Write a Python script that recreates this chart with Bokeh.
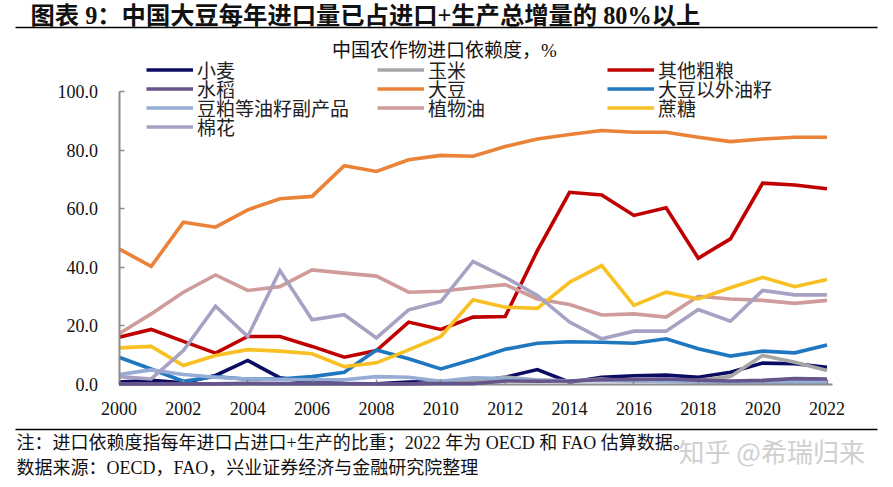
from bokeh.plotting import figure
from bokeh.models import (Range1d, FixedTicker, Label, Legend, LegendItem,
                          ColumnDataSource, LinearAxis)
from bokeh.embed import file_html
from bokeh.resources import INLINE

# ---------------- data ----------------
years = list(range(2000, 2023))
wheat   = [0.8, 1.4, 0.6, 3.1, 8.2, 2.3, 0.8, 0.3, 0.2, 0.8, 1.0, 1.0, 2.5, 5.1, 0.8, 2.5, 3.0, 3.2, 2.5, 4.2, 7.3, 7.1, 5.9]
corn    = [0.1, 0.1, 0.1, 0.1, 0.1, 0.1, 0.1, 0.1, 0.1, 0.1, 0.8, 1.0, 2.5, 1.5, 1.2, 1.9, 1.1, 1.2, 1.4, 2.7, 9.9, 7.6, 4.8]
coarse  = [16.1, 18.8, 14.7, 10.7, 16.4, 16.4, 13.0, 9.3, 11.6, 21.3, 18.8, 23.0, 23.2, 45.7, 65.6, 64.7, 57.7, 60.3, 43.1, 49.7, 68.7, 68.1, 66.8]
rice    = [0.2, 0.2, 0.2, 0.2, 0.4, 0.3, 0.3, 0.3, 0.2, 0.2, 0.3, 0.3, 1.2, 1.1, 1.2, 1.6, 1.7, 1.9, 1.5, 1.2, 1.4, 2.0, 1.9]
soy     = [46.3, 40.3, 55.4, 53.7, 59.6, 63.4, 64.2, 74.7, 72.7, 76.7, 78.2, 77.9, 81.2, 83.8, 85.3, 86.7, 86.1, 86.1, 84.4, 82.9, 83.8, 84.4, 84.4]
oilseed = [9.3, 5.3, 1.1, 2.7, 1.8, 1.9, 2.7, 4.2, 11.8, 8.8, 5.3, 8.5, 12.0, 14.1, 14.6, 14.4, 14.1, 15.6, 12.2, 9.7, 11.4, 10.8, 13.5]
meal    = [3.4, 5.0, 3.4, 2.5, 1.9, 1.7, 1.6, 1.6, 2.7, 2.5, 1.1, 2.3, 2.0, 1.5, 1.3, 1.3, 1.2, 1.0, 0.9, 0.8, 0.8, 0.8, 0.8]
vegoil  = [17.3, 24.1, 31.5, 37.4, 32.1, 33.4, 39.1, 38.0, 37.0, 31.5, 31.8, 33.0, 34.1, 29.2, 27.3, 23.7, 24.1, 23.0, 30.1, 29.2, 28.7, 27.7, 28.7]
sugar   = [12.5, 13.0, 6.5, 9.9, 11.9, 11.4, 10.5, 6.1, 7.4, 11.8, 16.4, 28.9, 26.4, 26.0, 34.9, 40.6, 27.0, 31.5, 29.2, 33.0, 36.6, 33.4, 35.8]
cotton  = [2.7, 1.9, 11.6, 26.7, 16.4, 38.9, 22.1, 23.8, 15.9, 25.5, 28.3, 42.0, 36.6, 30.4, 21.3, 15.6, 18.2, 18.2, 25.6, 21.6, 32.1, 30.6, 30.6]

series_names = ["小麦", "玉米", "其他粗粮", "水稻", "大豆", "大豆以外油籽",
                "豆粕等油籽副产品", "植物油", "蔗糖", "棉花"]
series_values = [wheat, corn, coarse, rice, soy, oilseed, meal, vegoil, sugar, cotton]
series_colors = ["#0c0c62", "#a6a6a6", "#c00000", "#66558a", "#ea8338", "#1f77c0",
                 "#95acd4", "#cf9b9b", "#f8c023", "#a7a1c4"]

x_ticks = list(range(2000, 2023, 2))
x_tick_labels = [str(y) for y in x_ticks]
y_ticks = [0, 20, 40, 60, 80, 100]
y_tick_labels = ["0.0", "20.0", "40.0", "60.0", "80.0", "100.0"]

title_text = "图表 9：中国大豆每年进口量已占进口+生产总增量的 80%以上"
subtitle_text = "中国农作物进口依赖度，%"
note_text = "注：进口依赖度指每年进口占进口+生产的比重；2022 年为 OECD 和 FAO 估算数据。"
source_text = "数据来源：OECD，FAO，兴业证券经济与金融研究院整理"
watermark_text = "知乎 @希瑞归来"

SERIF = "Liberation Serif, Noto Sans CJK SC"
SANS = "Noto Sans CJK SC"
W, H = 893, 487

# ---- layout geometry (page pixels) ----
X2000, X2022 = 118.5, 826.5      # x of first / last year
Y0, Y100 = 384, 91               # y of 0 and 100
PPY = (X2022 - X2000) / 22.0
PPU = (Y0 - Y100) / 100.0


def dx(X):   # page x -> data x
    return 2000 + (X - X2000) / PPY


def dy(Y):   # page y -> data y
    return (Y0 - Y) / PPU


# frame covers the whole canvas; axes are pinned inside it
p = figure(width=W, height=H, output_backend="svg", toolbar_location=None,
           x_range=Range1d(dx(0), dx(W)), y_range=Range1d(dy(H), dy(0)),
           min_border=0)
p.outline_line_color = None
p.xgrid.visible = False
p.ygrid.visible = False
p.background_fill_color = "white"
p.border_fill_color = "white"

src = ColumnDataSource(dict(year=years, **{f"s{i}": v for i, v in enumerate(series_values)}))
renderers = []
for i, (name, col) in enumerate(zip(series_names, series_colors)):
    r = p.line("year", f"s{i}", source=src, line_color=col, line_width=3.6,
               line_join="miter")
    renderers.append(r)
renderers[3].level = "overlay"

for ax in (p.xaxis[0], p.yaxis[0]):
    ax.axis_line_color = "#8c8c8c"
    ax.axis_line_width = 2
    ax.major_tick_line_color = "#8c8c8c"
    ax.major_tick_line_width = 1.5
    ax.major_tick_in = 5
    ax.major_tick_out = 0
    ax.minor_tick_line_color = None
    ax.major_label_text_font = SERIF
    ax.major_label_text_font_size = "18px"
    ax.major_label_text_color = "#111111"

p.xaxis.ticker = FixedTicker(ticks=x_ticks)
p.xaxis.major_label_overrides = dict(zip(x_ticks, x_tick_labels))
p.xaxis.major_label_standoff = 17
p.xaxis.fixed_location = 0
p.xaxis.bounds = (2000, dx(832))
p.yaxis.ticker = FixedTicker(ticks=y_ticks)
p.yaxis.major_label_overrides = dict(zip(y_ticks, y_tick_labels))
p.yaxis.major_label_standoff = 21
p.yaxis.fixed_location = 2000
p.yaxis.bounds = (0, 100)

# horizontal rules (under the title, above the notes) drawn as bare axis lines
for Y in (27, 429):
    rule_axis = LinearAxis(fixed_location=dy(Y), bounds=(dx(15), dx(877)),
                           ticker=FixedTicker(ticks=[]),
                           axis_line_color="#000000", axis_line_width=1.5,
                           major_tick_line_color=None, minor_tick_line_color=None,
                           major_label_text_alpha=0)
    p.add_layout(rule_axis, "below")


def text_at(X, Y, text, size, font=SERIF, align="left", color="#111111", style="normal"):
    p.add_layout(Label(x=dx(X), y=dy(Y), text=text, text_font=font,
                       text_font_size=size, text_font_style=style,
                       text_baseline="middle", text_align=align, text_color=color))


text_at(30, 15, title_text, "24.3px", style="bold")
text_at(444, 50, subtitle_text, "19px", align="center")
text_at(678, 450, watermark_text, "26px", font=SANS, color="#cfcfcf")
text_at(16, 442, note_text, "18px")
text_at(16, 467, source_text, "18px")

# legend: one single-entry legend per series, 3 columns in row-major order
col_x = [146, 377, 607]
row_y = [71, 90, 109, 128]
ITEM_H = 23
for i, (name, r) in enumerate(zip(series_names, renderers)):
    c, rw = i % 3, i // 3
    lg = Legend(items=[LegendItem(label=name, renderers=[r])],
                location=(col_x[c], H - (row_y[rw] + ITEM_H / 2)),
                orientation="vertical", padding=0, margin=0, spacing=0,
                glyph_width=47, glyph_height=19, label_height=19,
                label_standoff=4, label_text_font=SERIF,
                label_text_font_size="19px", label_text_color="#222222",
                border_line_color=None, background_fill_alpha=0)
    p.add_layout(lg, "center")

open("out.html", "w").write(file_html(p, INLINE))
